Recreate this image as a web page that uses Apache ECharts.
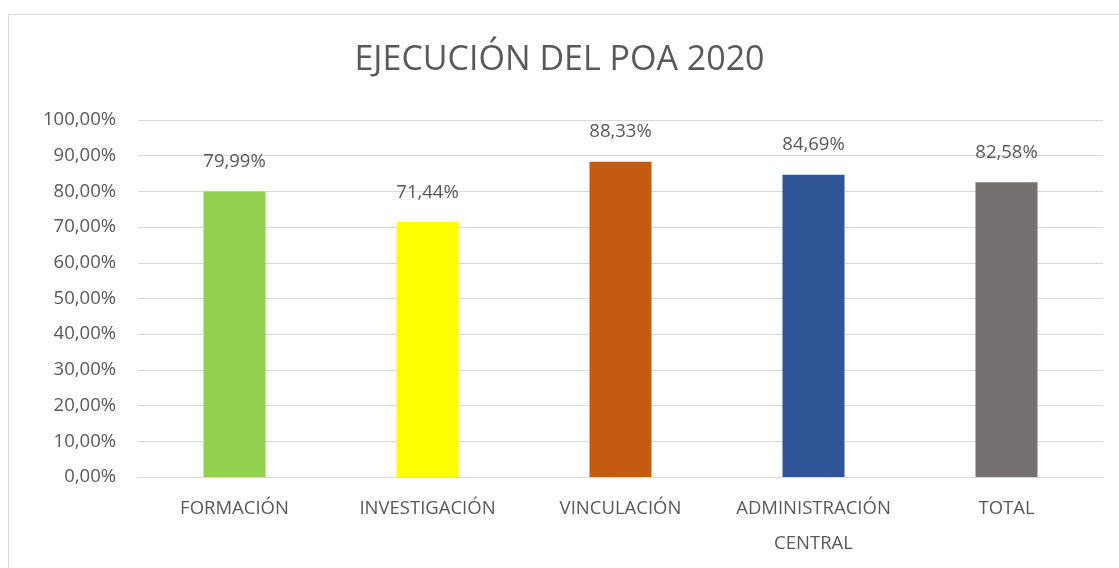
<!DOCTYPE html>
<html lang="es">
<head>
<meta charset="UTF-8">
<title>Ejecución del POA 2020</title>
<style>
  html, body { margin: 0; padding: 0; background: #fff; }
  #main { width: 1119px; height: 568px; }
</style>
</head>
<body>
<div id="main"></div>
<script src="https://cdn.jsdelivr.net/npm/echarts@6/dist/echarts.min.js"></script>
<script>
var categories = ['FORMACIÓN', 'INVESTIGACIÓN', 'VINCULACIÓN', 'ADMINISTRACIÓN\nCENTRAL', 'TOTAL'];
var values = [79.99, 71.44, 88.33, 84.69, 82.58];
var barColors = ['#92D050', '#FFFF00', '#C55A11', '#2F5597', '#767171'];

function fmtPct(v) {
    return v.toFixed(2).replace('.', ',') + '%';
}

var chart = echarts.init(document.getElementById('main'));

chart.setOption({
    backgroundColor: '#ffffff',
    textStyle: { fontFamily: '"Open Sans", Lato, sans-serif' },
    graphic: [{
        type: 'rect',
        shape: { x: 8.5, y: 14.5, width: 1130, height: 600 },
        style: { fill: 'none', stroke: '#d9d9d9', lineWidth: 1 },
        silent: true
    }],
    title: {
        text: 'EJECUCIÓN DEL POA 2020',
        left: 'center',
        top: 38,
        textStyle: { color: '#595959', fontSize: 34, fontWeight: 'normal' }
    },
    grid: { left: 138, right: 16, top: 120, bottom: 91 },
    xAxis: {
        type: 'category',
        data: categories,
        axisLine: { show: true, lineStyle: { color: '#d9d9d9' } },
        axisTick: { show: false },
        axisLabel: { color: '#595959', fontSize: 18.5, margin: 14, lineHeight: 35, interval: 0 }
    },
    yAxis: {
        type: 'value',
        min: 0,
        max: 100,
        interval: 10,
        axisLine: { show: false },
        axisTick: { show: false },
        splitLine: { lineStyle: { color: '#d9d9d9' } },
        axisLabel: {
            color: '#595959',
            fontSize: 18.5,
            margin: 22,
            formatter: function (v) { return fmtPct(v); }
        }
    },
    series: [{
        type: 'bar',
        barWidth: 62,
        data: values.map(function (v, i) {
            return { value: v, itemStyle: { color: barColors[i] } };
        }),
        label: {
            show: true,
            position: 'top',
            distance: 20,
            color: '#595959',
            fontSize: 18.5,
            formatter: function (p) { return fmtPct(p.value); }
        }
    }]
});
</script>
</body>
</html>
